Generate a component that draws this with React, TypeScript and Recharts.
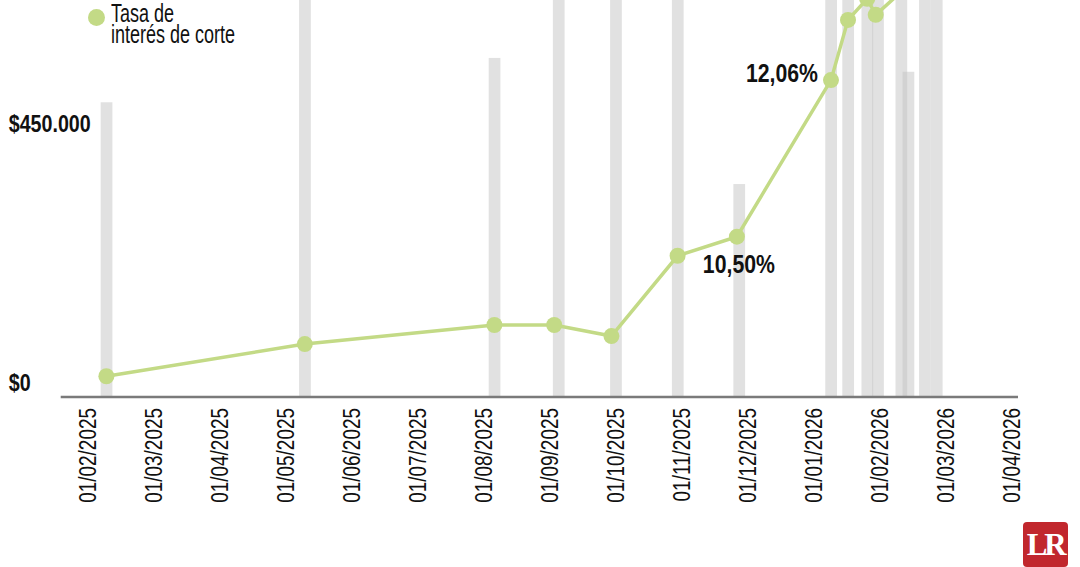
import React from "react";
import { ComposedChart, Bar, Line, XAxis, YAxis, Legend, LabelList } from "recharts";

const GREEN = "#c3da86";
const FONT = "'Liberation Sans', Arial, sans-serif";

// subastas: fecha y monto colocado
const auctionDates = [
  "2025-02-09", "2025-05-10", "2025-08-06", "2025-09-05", "2025-10-01",
  "2025-10-30", "2025-11-27", "2026-01-09", "2026-01-17", "2026-01-26",
  "2026-01-31", "2026-02-10", "2026-02-13", "2026-02-20", "2026-02-25",
];
const auctionAmounts = [
  512000, 760000, 589000, 720000, 740000,
  800000, 370000, 900000, 850000, 950000,
  880000, 820000, 565000, 900000, 870000,
];

// tasa de interés de corte (%)
const rateDates = [
  "2025-02-09", "2025-05-10", "2025-08-06", "2025-09-03", "2025-09-29",
  "2025-10-30", "2025-11-26", "2026-01-09", "2026-01-17", "2026-01-26",
  "2026-01-30", "2026-02-10", "2026-02-13", "2026-02-20", "2026-02-25",
];
const rates = [
  9.11, 9.43, 9.62, 9.62, 9.51,
  10.31, 10.5, 12.06, 12.66, 12.87,
  12.71, 12.94, 13.1, 13.25, 13.4,
];

const labeledDates = ["2025-11-26", "2026-01-09"];

const tickLabels = [
  "01/02/2025", "01/03/2025", "01/04/2025", "01/05/2025", "01/06/2025",
  "01/07/2025", "01/08/2025", "01/09/2025", "01/10/2025", "01/11/2025",
  "01/12/2025", "01/01/2026", "01/02/2026", "01/03/2026", "01/04/2026",
];
const amountTicks = [0, 450000];

// each month gets the same width on the axis
const monthPos = (iso: string) => {
  const [y, m, d] = iso.split("-").map(Number);
  const days = new Date(y, m, 0).getDate();
  return (y - 2025) * 12 + (m - 2) + (d - 1) / days;
};
const fromLabel = (l: string) => {
  const [d, m, y] = l.split("/");
  return `${y}-${m}-${d}`;
};
const xTicks = tickLabels.map((l) => monthPos(fromLabel(l)));

const rows = Array.from(new Set([...auctionDates, ...rateDates]))
  .sort()
  .map((date) => {
    const ai = auctionDates.indexOf(date);
    const ri = rateDates.indexOf(date);
    return {
      date,
      x: monthPos(date),
      amount: ai >= 0 ? auctionAmounts[ai] : null,
      rate: ri >= 0 ? rates[ri] : null,
    };
  });

const money = (v: number) => "$" + String(v).replace(/\B(?=(\d{3})+(?!\d))/g, ".");

const DateTick = (props: any) => {
  const { x, y, payload } = props;
  const label = tickLabels[xTicks.indexOf(payload.value)];
  return (
    <text
      transform={`translate(${x},${y + 3}) rotate(-90) scale(0.79,1)`}
      textAnchor="end"
      dominantBaseline="central"
      fontSize={24}
      fontFamily={FONT}
      fill="#111"
    >
      {label}
    </text>
  );
};

const AmountTick = (props: any) => {
  const { x, y, payload } = props;
  return (
    <text
      transform={`translate(${x - 44},${y - 6}) scale(0.82,1)`}
      textAnchor="start"
      fontSize={24}
      fontWeight="bold"
      fontFamily={FONT}
      fill="#111"
    >
      {money(payload.value)}
    </text>
  );
};

const RateLabel = (props: any) => {
  const { x, y, index } = props;
  const row = rows[index];
  if (!row || row.rate == null || !labeledDates.includes(row.date)) return null;
  const text = row.rate.toFixed(2).replace(".", ",") + "%";
  const left = row.date === "2026-01-09";
  const tx = left ? x - 13 : x + 2;
  const ty = left ? y + 2 : y + 36;
  return (
    <text
      transform={`translate(${tx},${ty}) scale(0.85,1)`}
      textAnchor={left ? "end" : "middle"}
      fontSize={25}
      fontWeight="bold"
      fontFamily={FONT}
      fill="#111"
    >
      {text}
    </text>
  );
};

// fixed-width bars centred on the scaled date
const AuctionBar = (props: any) => {
  const { x, y, width, height } = props;
  if (height == null || height <= 0) return null;
  const cx = x + width / 2;
  return <rect x={cx - 5.85} y={y} width={11.7} height={height} fill="#c4c4c4" fillOpacity={0.5} />;
};

const LegendBox = () => (
  <div style={{ display: "flex", alignItems: "flex-start", fontFamily: FONT, fontSize: 25, lineHeight: "21px", color: "#111" }}>
    <span style={{ width: 17, height: 17, borderRadius: "50%", background: GREEN, marginTop: 6, marginRight: 6, flex: "none" }} />
    <span style={{ display: "inline-block", transform: "scaleX(0.72)", transformOrigin: "left top", whiteSpace: "nowrap" }}>
      Tasa de
      <br />
      interés de corte
    </span>
  </div>
);

export default function App() {
  return (
    <div style={{ position: "relative", width: 1080, height: 567, background: "#fff" }}>
      <style>{"body{margin:0}"}</style>
      <ComposedChart width={1080} height={567} data={rows} margin={{ top: 0, right: 62, bottom: 0, left: 0 }}>
        <XAxis
          dataKey="x"
          type="number"
          domain={[-0.406, 14.09]}
          allowDataOverflow
          ticks={xTicks}
          interval={0}
          height={170}
          tickLine={false}
          axisLine={{ stroke: "#7a7a7a", strokeWidth: 2.5 }}
          tick={<DateTick />}
        />
        <YAxis
          yAxisId="amt"
          width={60.7}
          domain={[0, 689700]}
          allowDataOverflow
          ticks={amountTicks}
          axisLine={false}
          tickLine={false}
          tick={<AmountTick />}
        />
        <YAxis yAxisId="rate" orientation="right" hide domain={[8.903, 12.858]} allowDataOverflow />
        <Legend
          layout="vertical"
          align="center"
          verticalAlign="middle"
          content={<LegendBox />}
          wrapperStyle={{ top: 3, left: 88, width: "auto" }}
        />
        <Bar yAxisId="amt" dataKey="amount" shape={<AuctionBar />} isAnimationActive={false} />
        <Line
          yAxisId="rate"
          dataKey="rate"
          type="linear"
          stroke={GREEN}
          strokeWidth={3.5}
          connectNulls
          dot={{ r: 8, fill: GREEN, stroke: "none" }}
          activeDot={false}
          isAnimationActive={false}
        >
          <LabelList dataKey="rate" content={<RateLabel />} />
        </Line>
      </ComposedChart>
      <div
        style={{
          position: "absolute",
          left: 1022.7,
          top: 521.7,
          width: 45,
          height: 45,
          background: "#c1272d",
          borderRadius: 4,
          color: "#fff",
          fontFamily: "'Liberation Serif', 'DejaVu Serif', serif",
          fontWeight: "bold",
          fontSize: 31,
          letterSpacing: -3,
          lineHeight: "45px",
          textAlign: "center",
        }}
      >
        LR
      </div>
    </div>
  );
}
